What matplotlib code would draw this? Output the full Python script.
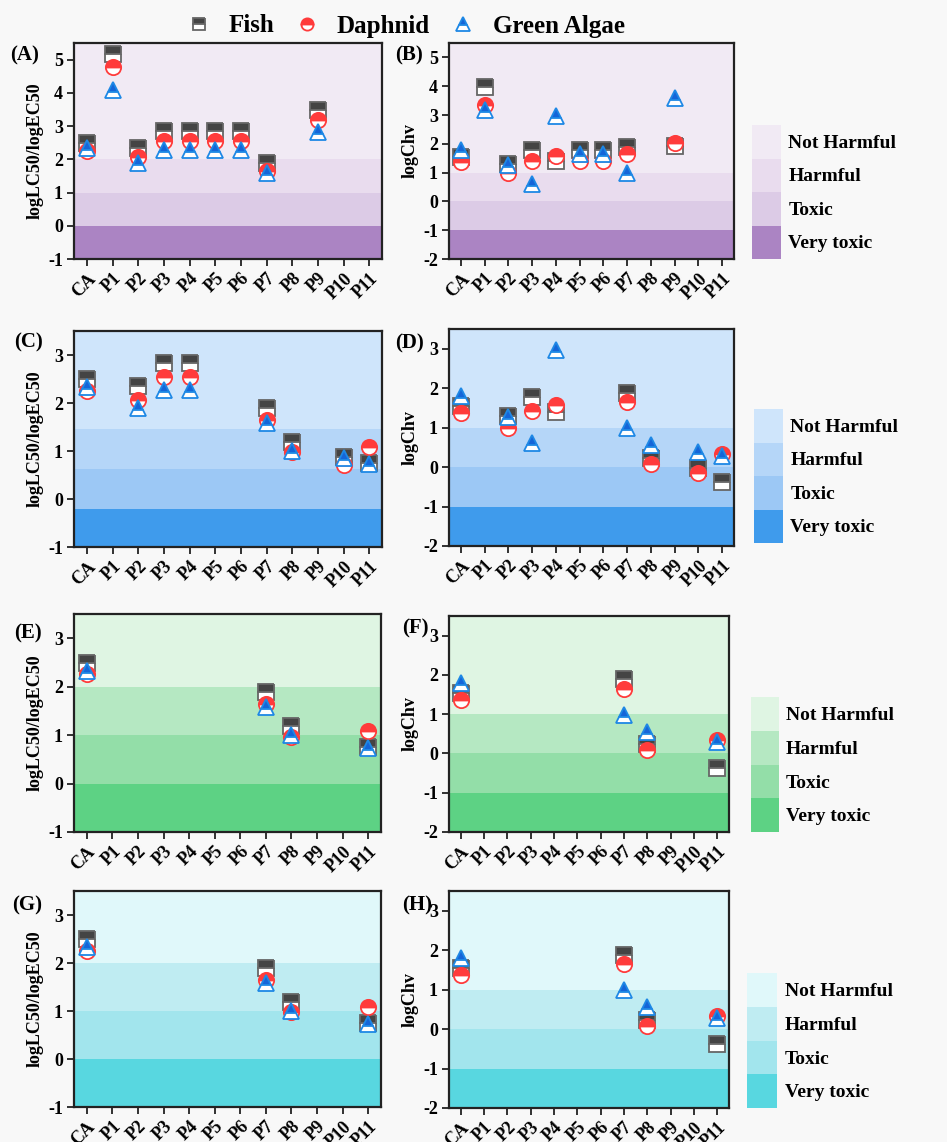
import matplotlib.pyplot as plt

plt.rcParams["font.family"] = ["Liberation Serif", "DejaVu Serif"]
plt.rcParams["font.weight"] = "bold"

categories = ["CA", "P1", "P2", "P3", "P4", "P5", "P6", "P7", "P8", "P9", "P10", "P11"]

# acute toxicity, logLC50 / logEC50
acute_fish = [2.49, 5.17, 2.35, 2.84, 2.84, 2.84, 2.84, 1.89, 1.18, 3.48, 0.88, 0.76]
acute_daphnid = [2.26, 4.78, 2.06, 2.55, 2.55, 2.55, 2.55, 1.65, 0.97, 3.17, 0.70, 1.09]
acute_algae = [2.33, 4.08, 1.90, 2.28, 2.28, 2.28, 2.28, 1.58, 1.01, 2.82, 0.85, 0.73]

# chronic toxicity, logChv
chronic_fish = [1.55, 3.97, 1.30, 1.77, 1.40, 1.77, 1.77, 1.89, 0.24, 1.94, -0.03, -0.37]
chronic_daphnid = [1.36, 3.34, 0.99, 1.42, 1.58, 1.42, 1.42, 1.65, 0.08, 2.03, -0.14, 0.33]
chronic_algae = [1.80, 3.17, 1.27, 0.61, 2.97, 1.63, 1.63, 0.99, 0.55, 3.60, 0.38, 0.29]

# compounds shown in each row
row_members = [
    ["CA", "P1", "P2", "P3", "P4", "P5", "P6", "P7", "P9"],
    ["CA", "P2", "P3", "P4", "P7", "P8", "P10", "P11"],
    ["CA", "P7", "P8", "P11"],
    ["CA", "P7", "P8", "P11"],
]

# hazard band limits (very toxic / toxic / harmful / not harmful)
acute_bounds = [[0, 1, 2], [-0.2, 0.62, 1.45], [0, 1, 2], [0, 1, 2]]
chronic_bounds = [-1, 0, 1]
band_labels = ["Not Harmful", "Harmful", "Toxic", "Very toxic"]

# band colours, darkest (very toxic) first
palettes = [
    ["#ab84c3", "#dccbe6", "#e9dcee", "#f1eaf4"],
    ["#3f9bec", "#9cc8f5", "#b5d6f8", "#cfe5fb"],
    ["#5dd284", "#93dea8", "#b5e8c2", "#dff5e3"],
    ["#58d7e0", "#a2e5ed", "#bfecf2", "#e0f8fa"],
]

species = [
    ("Fish", "s", "#444444", "#666666", 11),
    ("Daphnid", "o", "#ff3b3b", "#ff3b3b", 11),
    ("Green Algae", "^", "#1565d8", "#1e88e5", 12),
]

W, H = 947, 1142
fig = plt.figure(figsize=(W / 100, H / 100), dpi=100, facecolor="#f8f8f8")


def px_axes(left, right, top, bottom):
    return fig.add_axes([left / W, 1 - bottom / H, (right - left) / W, (bottom - top) / H])


def draw_panel(ax, members, series, bounds, colors, ylim, ylabel, yticks):
    lo, hi = ylim
    edges = [lo] + list(bounds) + [hi]
    for k, c in enumerate(colors):
        ax.axhspan(edges[k], edges[k + 1], color=c, lw=0, zorder=0)
    xs = list(range(len(categories)))
    handles = []
    for (name, mk, fc, ec, ms), vals in zip(species, series):
        px = [i for i, c in enumerate(categories) if c in members]
        py = [vals[i] for i in px]
        h, = ax.plot(px, py, ls="none", marker=mk, ms=ms, mfc=fc, mfcalt="white",
                     fillstyle="top", mec=ec, mew=1.3, zorder=3, label=name)
        handles.append(h)
    ax.set_xlim(-0.5, len(categories) - 0.5)
    ax.set_ylim(lo, hi)
    ax.set_xticks(xs)
    ax.set_xticklabels(categories, rotation=45, ha="right", va="top",
                       rotation_mode="anchor", fontsize=13, fontweight="bold")
    ax.set_yticks(yticks)
    ax.set_yticklabels([str(t) for t in yticks], fontsize=13, fontweight="bold")
    ax.tick_params(direction="out", length=5, width=1.3, color="#222222", pad=3)
    ax.set_ylabel(ylabel, fontsize=13, fontweight="bold", labelpad=3)
    for s in ax.spines.values():
        s.set_linewidth(1.6)
        s.set_color("#222222")
    return handles


def draw_key(ax, colors):
    for k, c in enumerate(colors):
        ax.axhspan(k, k + 1, color=c, lw=0)
    ax.set_xlim(0, 1)
    ax.set_ylim(0, 4)
    ax.axis("off")
    for k, lab in enumerate(band_labels[::-1]):
        ax.text(1.25, k + 0.45, lab, transform=ax.transData, fontsize=14,
                fontweight="bold", va="center", ha="left", clip_on=False)


left_boxes = [(74, 382, 43, 259), (74, 382, 331, 547), (74, 381, 614, 832), (74, 381, 891, 1107)]
right_boxes = [(449, 734, 43, 259), (449, 734, 329, 546), (449, 729, 616, 832), (449, 729, 891, 1108)]
key_boxes = [(752, 781, 125, 259), (754, 783, 409, 543), (751, 779, 697, 832), (747, 777, 973, 1108)]
left_tags = ["(A)", "(C)", "(E)", "(G)"]
right_tags = ["(B)", "(D)", "(F)", "(H)"]
left_tag_pos = [(10, 55), (14, 342), (14, 633), (12, 905)]
right_tag_pos = [(395, 55), (395, 343), (402, 628), (402, 905)]

acute_series = [acute_fish, acute_daphnid, acute_algae]
chronic_series = [chronic_fish, chronic_daphnid, chronic_algae]

legend_handles = None
for r in range(4):
    top_ylim = 5.5 if r == 0 else 3.5
    ax_l = px_axes(*left_boxes[r])
    hs = draw_panel(ax_l, row_members[r], acute_series, acute_bounds[r], palettes[r],
                    (-1, top_ylim), "logLC50/logEC50", list(range(-1, int(top_ylim) + 1)))
    if legend_handles is None:
        legend_handles = hs
    ax_r = px_axes(*right_boxes[r])
    draw_panel(ax_r, row_members[r], chronic_series, chronic_bounds, palettes[r],
               (-2, top_ylim), "logChv", list(range(-2, int(top_ylim) + 1)))
    draw_key(px_axes(*key_boxes[r]), palettes[r])
    for tag, (tx, ty) in [(left_tags[r], left_tag_pos[r]), (right_tags[r], right_tag_pos[r])]:
        fig.text(tx / W, 1 - ty / H, tag, fontsize=15, fontweight="bold", va="center", ha="left")

fig.legend(handles=legend_handles, loc="center", bbox_to_anchor=(0.428, 1 - 26 / H),
           ncol=3, frameon=False, prop={"size": 18, "weight": "bold"},
           handlelength=1.0, handletextpad=0.7, columnspacing=0.8, markerscale=0.8)

fig.savefig("out.png", dpi=100, facecolor=fig.get_facecolor())
